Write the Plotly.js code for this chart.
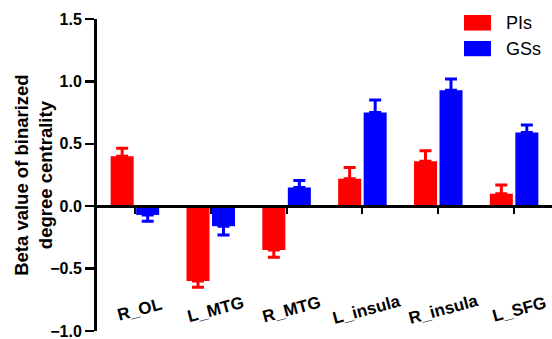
<!DOCTYPE html>
<html>
<head>
<meta charset="utf-8">
<script src="https://cdn.plot.ly/plotly-3.0.1.min.js"></script>
<style>html,body{margin:0;padding:0;background:#fff;}#chart{width:552px;height:339px;}</style>
</head>
<body>
<div id="chart"></div>
<script>
const categories = ['R_OL', 'L_MTG', 'R_MTG', 'L_insula', 'R_insula', 'L_SFG'];
const seriesNames = ['PIs', 'GSs'];
const piValues = [0.40, -0.60, -0.35, 0.22, 0.36, 0.10];
const piErrors = [0.065, 0.05, 0.06, 0.09, 0.085, 0.07];
const gsValues = [-0.07, -0.16, 0.15, 0.75, 0.93, 0.59];
const gsErrors = [0.05, 0.07, 0.055, 0.10, 0.09, 0.06];
const yTickVals = [-1.0, -0.5, 0.0, 0.5, 1.0, 1.5];
const yTitle = 'Beta value of binarized<br>degree centrality';
const colors = ['#FF0000', '#0000FF'];

const FONT = 'Arial, "Liberation Sans", sans-serif';

function barTrace(name, vals, errs, color) {
  return {
    type: 'bar', name: name, x: categories, y: vals,
    marker: {color: color, line: {width: 0}},
    error_y: {
      type: 'data', symmetric: false,
      array: vals.map((v, i) => v >= 0 ? errs[i] : 0),
      arrayminus: vals.map((v, i) => v < 0 ? errs[i] : 0),
      color: color, thickness: 3, width: 6
    },
    hoverinfo: 'skip'
  };
}

const data = [
  barTrace(seriesNames[0], piValues, piErrors, colors[0]),
  barTrace(seriesNames[1], gsValues, gsErrors, colors[1])
];

const annotations = categories.map(c => ({
  xref: 'x', yref: 'paper', x: c, y: 0.068, xshift: 5,
  text: c, showarrow: false, textangle: -15,
  xanchor: 'center', yanchor: 'middle',
  font: {family: FONT, size: 17, color: '#000', weight: 'bold'}
}));

// y-axis title
annotations.push({xref: 'paper', yref: 'paper', x: -0.141, y: 0.5,
  text: yTitle, showarrow: false, textangle: -90,
  xanchor: 'center', yanchor: 'middle',
  font: {family: FONT, size: 18.5, color: '#000', weight: 'bold'}});

const legendX0 = 0.8066, legendX1 = 0.866;
const legendY = [[1.0128, 0.963], [0.9295, 0.8807]];
const shapes = [];
seriesNames.forEach((n, i) => {
  shapes.push({type: 'rect', xref: 'paper', yref: 'paper',
    x0: legendX0, x1: legendX1, y0: legendY[i][1], y1: legendY[i][0],
    fillcolor: colors[i], line: {width: 0}});
  annotations.push({xref: 'paper', yref: 'paper', x: 0.894,
    y: (legendY[i][0] + legendY[i][1]) / 2, text: n, showarrow: false,
    xanchor: 'left', yanchor: 'middle',
    font: {family: FONT, size: 18, color: '#000'}});
});

const layout = {
  width: 552, height: 339,
  margin: {l: 97, r: 0, t: 19, b: 8},
  paper_bgcolor: '#fff', plot_bgcolor: '#fff',
  showlegend: false,
  barmode: 'group', bargap: 0.327, bargroupgap: 0.098,
  font: {family: FONT, color: '#000'},
  xaxis: {
    type: 'category', range: [-0.5, 5.5],
    anchor: 'free', position: 0.4,
    showline: true, linecolor: '#000', linewidth: 3,
    ticks: 'outside', ticklen: 6, tickwidth: 2, tickcolor: '#000',
    showticklabels: false, showgrid: false, zeroline: false, fixedrange: true
  },
  yaxis: {
    range: [-1, 1.5], tickvals: yTickVals, tickformat: '.1f',
    showline: true, linecolor: '#000', linewidth: 3,
    ticks: 'outside', ticklen: 9, tickwidth: 2.5, tickcolor: '#000',
    ticklabeloverflow: 'allow',
    showgrid: false, zeroline: false,
    tickfont: {family: FONT, size: 16, color: '#000', weight: 'bold'},
    fixedrange: true
  },
  annotations: annotations,
  shapes: shapes
};

Plotly.newPlot('chart', data, layout, {displayModeBar: false, staticPlot: true});
</script>
</body>
</html>
